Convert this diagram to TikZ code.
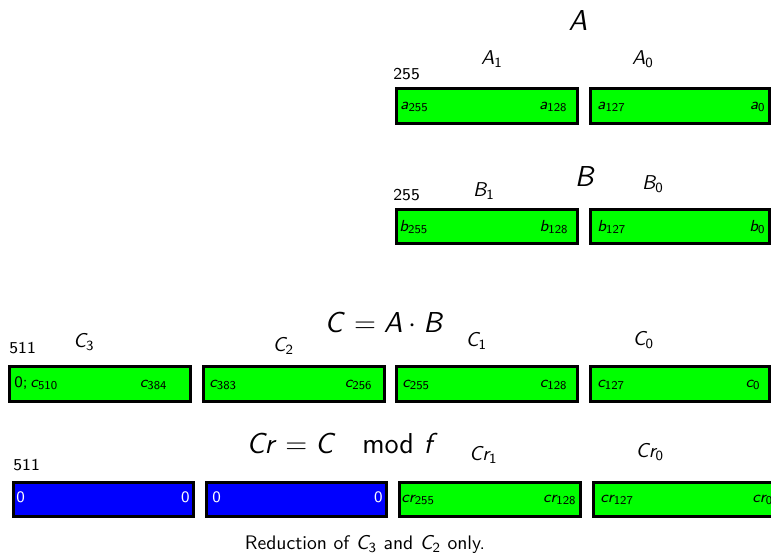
\documentclass[tikz,border=0pt]{standalone}
% sans-serif math: slanted letters and upright digits from Computer Modern Sans
\DeclareSymbolFont{operators}{OT1}{cmss}{m}{n}
\DeclareSymbolFont{letters}{OT1}{cmss}{m}{sl}
\begin{document}
\begin{tikzpicture}[x=0.5pt,y=-0.5pt,
  greenreg/.style={draw=black,line width=1.3pt,fill=green},
  bluereg/.style={draw=black,line width=1.3pt,fill=blue},
  biglabel/.style={font=\fontsize{14.4}{17}\selectfont,inner sep=0pt},
  partlabel/.style={font=\fontsize{9.6}{12}\selectfont,inner sep=0pt},
  bitnum/.style={font=\sffamily\fontsize{8.3}{10}\selectfont,inner sep=0pt,anchor=base west},
  cellL/.style={font=\fontsize{8.5}{10}\selectfont,inner sep=0pt,anchor=base west},
  cellR/.style={font=\fontsize{8.5}{10}\selectfont,inner sep=0pt,anchor=base east},
  zerotext/.style={text=white}]
\useasboundingbox (0,0) rectangle (771,557);

% ---- operand A ----
\draw[greenreg] (396.3,88.3) rectangle (577.7,123.7);
\draw[greenreg] (590.3,88.3) rectangle (769.7,123.7);
\node[biglabel] (A) at (578,20) {$A$};
\node[partlabel] (A1) at (492,59) {$A_1$};
\node[partlabel] (A0) at (643,59) {$A_0$};
\node[bitnum] (nA) at (393,79) {255};
\node[cellL] (a255) at (400,109) {$a_{255}$};
\node[cellR] (a128) at (568,109) {$a_{128}$};
\node[cellL] (a127) at (597,109) {$a_{127}$};
\node[cellR] (a0) at (766,109) {$a_0$};

% ---- operand B ----
\draw[greenreg] (396.3,209.3) rectangle (577.7,243.7);
\draw[greenreg] (590.3,209.3) rectangle (769.7,243.7);
\node[biglabel] (B) at (585.5,176) {$B$};
\node[partlabel] (B1) at (484,191) {$B_1$};
\node[partlabel] (B0) at (653,184) {$B_0$};
\node[bitnum] (nB) at (393,200) {255};
\node[cellL] (b255) at (399,231) {$b_{255}$};
\node[cellR] (b128) at (569,231) {$b_{128}$};
\node[cellL] (b127) at (597,231) {$b_{127}$};
\node[cellR] (b0) at (766,231) {$b_0$};

% ---- full product C ----
\draw[greenreg] (9.3,366.3) rectangle (190.7,401.7);
\draw[greenreg] (203.3,366.3) rectangle (384.7,401.7);
\draw[greenreg] (396.3,366.3) rectangle (577.7,401.7);
\draw[greenreg] (590.3,366.3) rectangle (769.7,401.7);
\node[biglabel] (C) at (384.5,322) {$C = A\cdot B$};
\node[bitnum] (nC) at (9,353) {511};
\node[partlabel] (C3) at (84,342) {$C_3$};
\node[partlabel] (C2) at (283.5,346) {$C_2$};
\node[partlabel] (C1) at (476.5,341) {$C_1$};
\node[partlabel] (C0) at (643.5,340) {$C_0$};
\node[cellL] (c510) at (14,387) {$0; c_{510}$};
\node[cellR] (c384) at (168,387) {$c_{384}$};
\node[cellL] (c383) at (209,387) {$c_{383}$};
\node[cellR] (c256) at (373,387) {$c_{256}$};
\node[cellL] (c255) at (402,387) {$c_{255}$};
\node[cellR] (c128) at (568,387) {$c_{128}$};
\node[cellL] (c127) at (597,387) {$c_{127}$};
\node[cellR] (c0) at (761,387) {$c_0$};

% ---- reduced result Cr ----
\draw[bluereg] (13.3,482.3) rectangle (193.7,516.7);
\draw[bluereg] (206.3,482.3) rectangle (386.7,516.7);
\draw[greenreg] (399.3,482.3) rectangle (580.7,516.7);
\draw[greenreg] (593.3,482.3) rectangle (774.7,516.7);
\node[biglabel] (Cr) at (342.5,443) {$Cr = C \mkern16mu \mathrm{mod}\,\, f$};
\node[bitnum] (nCr) at (13,470) {511};
\node[partlabel] (Cr1) at (483.5,455) {$Cr_1$};
\node[partlabel] (Cr0) at (650,452) {$Cr_0$};
\node[cellL,zerotext] (z3) at (16,502) {$0$};
\node[cellR,zerotext] (z2) at (190,502) {$0$};
\node[cellL,zerotext] (z1) at (212,502) {$0$};
\node[cellR,zerotext] (z0) at (383,502) {$0$};
\node[cellL] (cr255) at (401,502) {$cr_{255}$};
\node[cellR] (cr128) at (577,502) {$cr_{128}$};
\node[cellL] (cr127) at (600,502) {$cr_{127}$};
\node[cellL] (cr0) at (752,502) {$cr_0$};

% ---- caption ----
\node[font=\sffamily\fontsize{9.8}{12}\selectfont,inner sep=0pt] (cap) at (365,545)
  {Reduction of $C_3$ and $C_2$ only.};
\end{tikzpicture}
\end{document}
